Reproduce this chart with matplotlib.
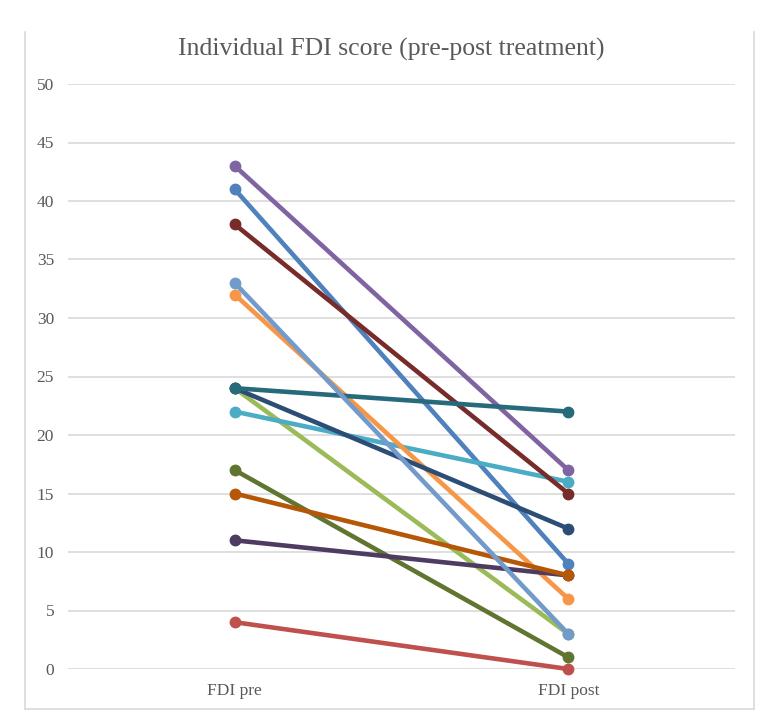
import matplotlib.pyplot as plt
from matplotlib.lines import Line2D

categories = ['FDI pre', 'FDI post']
pre_scores = [41, 4, 24, 43, 22, 32, 24, 38, 17, 11, 24, 15, 33]
post_scores = [9, 0, 3, 17, 16, 6, 12, 15, 1, 8, 22, 8, 3]
colors = ['#4F81BD', '#C0504D', '#9BBB59', '#8064A2', '#4BACC6', '#F79646',
          '#2C4D75', '#772C2A', '#5F7530', '#4D3B62', '#276A7C', '#B65708',
          '#729ACA']

W, H = 783, 712
plt.rcParams['font.family'] = ['Liberation Serif', 'DejaVu Serif']

fig = plt.figure(figsize=(W / 100, H / 100), dpi=100)
ax = fig.add_axes([68 / W, 1 - 669 / H, (735 - 68) / W, (669 - 84) / H])

x = list(range(len(categories)))
for pre, post, c in zip(pre_scores, post_scores, colors):
    ax.plot(x, [pre, post], color=c, linewidth=3.3, marker='o',
            markersize=7.5, solid_capstyle='round', clip_on=False)

ax.set_xlim(-0.5, 1.5)
ax.set_ylim(0, 50)
ax.set_yticks(range(0, 51, 5))
ax.set_xticks(x)
ax.set_xticklabels(categories)
ax.grid(axis='y', color='#D9D9D9', linewidth=1.2)
ax.set_axisbelow(True)
for s in ax.spines.values():
    s.set_visible(False)
ax.tick_params(length=0, labelsize=12.5, labelcolor='#595959')
ax.tick_params(axis='y', pad=10)
ax.tick_params(axis='x', pad=10)

fig.text(0.5, 1 - 49 / H, 'Individual FDI score (pre-post treatment)',
         ha='center', va='center', fontsize=18.5, color='#595959')

# chart border
bc = '#D9D9D9'
fig.add_artist(Line2D([25 / W, 25 / W], [1 - 32 / H, 1 - 709 / H], color=bc, lw=1.2))
fig.add_artist(Line2D([754 / W, 754 / W], [1 - 32 / H, 1 - 709 / H], color=bc, lw=1.2))
fig.add_artist(Line2D([25 / W, 754 / W], [1 - 709 / H, 1 - 709 / H], color=bc, lw=1.2))

fig.savefig('out.png', dpi=100)
